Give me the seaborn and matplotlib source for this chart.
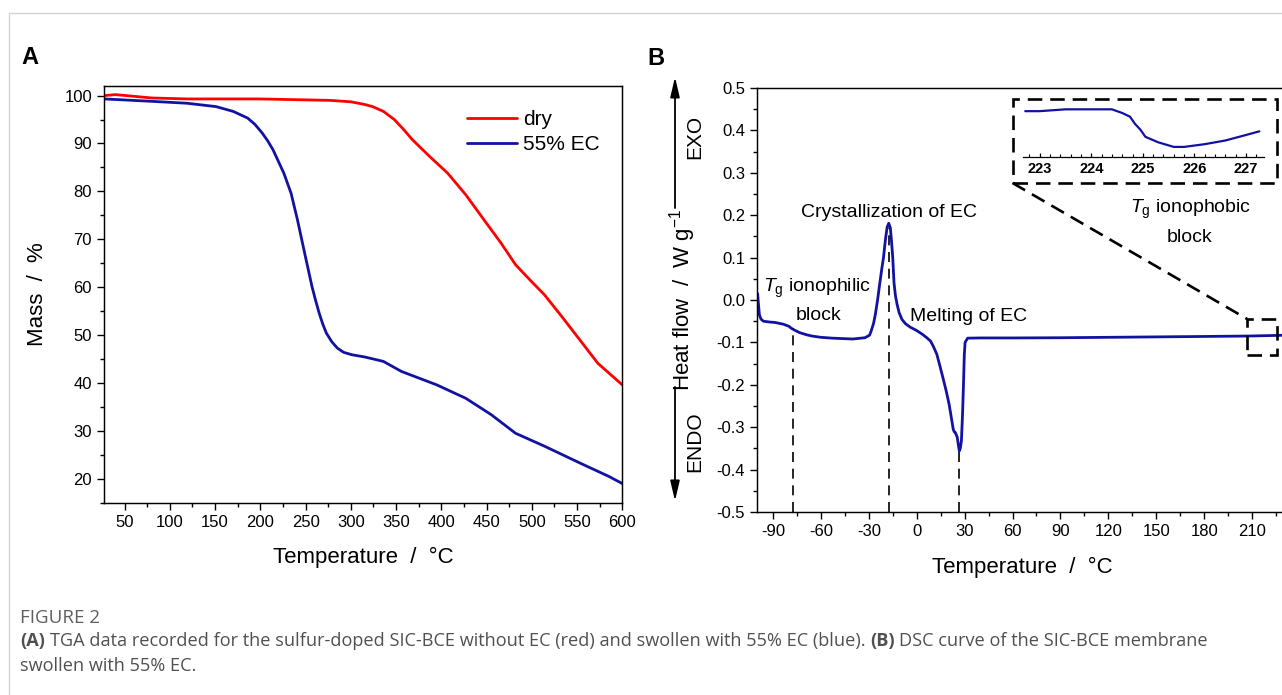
import matplotlib
matplotlib.use("Agg")
import matplotlib.pyplot as plt
import seaborn as sns
import pandas as pd
from matplotlib.ticker import MultipleLocator, FuncFormatter
from matplotlib.patches import Rectangle, FancyArrowPatch
from matplotlib.lines import Line2D

# ---------------- data ----------------
series_labels = ["dry", "55% EC"]

tga_temp_dry = [27.6, 40, 80, 119, 198, 277, 300, 314, 324, 336, 348, 358, 368, 387,
                407, 427, 447, 466, 482, 498, 514, 533, 553, 573, 600]
tga_mass_dry = [100.0, 100.2, 99.5, 99.3, 99.3, 99.0, 98.7, 98.2, 97.7, 96.7, 95.0,
                93.0, 90.8, 87.3, 83.8, 79.3, 74.1, 69.2, 64.7, 61.5, 58.4, 53.9,
                49.0, 44.1, 39.6]

tga_temp_ec = [27.6, 80, 119, 151, 170, 186, 194, 202, 208, 214, 226, 234, 241, 249,
               257, 261, 265, 269, 273, 279, 285, 292, 301, 316, 336, 356, 395, 427,
               455, 482, 514, 553, 585, 600]
tga_mass_ec = [99.3, 98.8, 98.4, 97.7, 96.7, 95.3, 94.0, 92.2, 90.6, 88.7, 83.8, 79.6,
               74.1, 67.1, 60.2, 57.3, 54.6, 52.3, 50.4, 48.6, 47.3, 46.4, 45.9, 45.4,
               44.5, 42.4, 39.6, 36.8, 33.4, 29.5, 26.8, 23.3, 20.5, 19.0]

dsc_temp = [-99.6, -99.2, -98.5, -97.5, -96, -92, -88.7, -83.6, -80, -78.4, -76, -73.3,
            -69, -65.6, -60, -52.8, -40, -32.4, -29.5, -28.5, -27, -25.9, -24.5, -23.2,
            -22, -20.8, -19.5, -18.5, -17.5, -16.5, -15.8, -15.0, -14.2, -13.3, -12.3,
            -11, -9.2, -7, -4.1, 0, 3.6, 6, 8.7, 10.5, 12.6, 14.5, 16.4, 18.5, 20.3,
            21.8, 22.9, 23.5, 24.1, 24.8, 25.4, 26.0, 26.7, 27.3, 28.0, 28.7, 29.3,
            29.8, 30.3, 31.9, 40, 60, 90, 120, 150, 180, 207, 220, 229]
dsc_heat = [0.015, -0.005, -0.035, -0.045, -0.050, -0.052, -0.053, -0.057, -0.062,
            -0.067, -0.072, -0.077, -0.082, -0.085, -0.088, -0.090, -0.092, -0.089,
            -0.083, -0.073, -0.055, -0.034, 0.000, 0.037, 0.070, 0.100, 0.145, 0.172,
            0.181, 0.170, 0.140, 0.100, 0.040, 0.010, -0.010, -0.030, -0.046, -0.056,
            -0.064, -0.072, -0.081, -0.088, -0.097, -0.110, -0.128, -0.155, -0.183,
            -0.215, -0.246, -0.280, -0.305, -0.311, -0.312, -0.318, -0.324, -0.340,
            -0.356, -0.350, -0.332, -0.270, -0.199, -0.130, -0.100, -0.090, -0.0895,
            -0.0895, -0.0890, -0.0880, -0.0870, -0.0860, -0.0850, -0.0840, -0.0832]

inset_temp = [222.72, 223.0, 223.5, 224.0, 224.4, 224.6, 224.75, 224.85, 224.95,
              225.05, 225.3, 225.6, 225.8, 226.2, 226.6, 227.0, 227.26]
inset_heat = [-0.0835, -0.0835, -0.0834, -0.0834, -0.0834, -0.0836, -0.0838, -0.0842,
              -0.0845, -0.0849, -0.0852, -0.08545, -0.08545, -0.0853, -0.0851,
              -0.0848, -0.0846]

marker_temp = [-77.5, -17.5, 26.7]
marker_heat = [-0.066, 0.17, -0.356]

# ---------------- style ----------------
sns.set_theme(style="ticks")
plt.rcParams["font.family"] = ["Liberation Sans", "DejaVu Sans"]
plt.rcParams["axes.unicode_minus"] = False
plt.rcParams["mathtext.fontset"] = "custom"
plt.rcParams["mathtext.rm"] = "Liberation Sans"
plt.rcParams["mathtext.it"] = "Liberation Sans:italic"
plt.rcParams["mathtext.bf"] = "Liberation Sans:bold"
plt.rcParams["axes.linewidth"] = 1.05
for key in ["text.color", "axes.labelcolor", "xtick.color", "ytick.color",
            "axes.edgecolor"]:
    plt.rcParams[key] = "black"

W, H = 1282, 695
fig = plt.figure(figsize=(W / 100, H / 100), dpi=100)
fig.patch.set_facecolor("white")


def fx(px):
    return px / W


def fy(py):
    return 1 - py / H


RED = "#ff0000"
BLUE = "#1212a2"

# frame lines of the page
fig.add_artist(Line2D([fx(8.5), fx(8.5)], [fy(12.5), 0], color="#d4d4d4", lw=1.0))
fig.add_artist(Line2D([fx(8.5), 1], [fy(12.5), fy(12.5)], color="#d4d4d4", lw=1.0))

# ---------------- panel A ----------------
axA = fig.add_axes([fx(104.3), fy(502.7), (622.3 - 104.3) / W, (502.7 - 86) / H])
df_dry = pd.DataFrame({"T": tga_temp_dry, "m": tga_mass_dry})
df_ec = pd.DataFrame({"T": tga_temp_ec, "m": tga_mass_ec})
sns.lineplot(data=df_dry, x="T", y="m", ax=axA, color=RED, lw=2.0,
             label=series_labels[0], sort=False, estimator=None)
sns.lineplot(data=df_ec, x="T", y="m", ax=axA, color=BLUE, lw=2.0,
             label=series_labels[1], sort=False, estimator=None)
axA.set_xlim(27.6, 600)
axA.set_ylim(15, 102)
axA.xaxis.set_major_locator(MultipleLocator(50))
axA.xaxis.set_minor_locator(MultipleLocator(25))
axA.yaxis.set_major_locator(MultipleLocator(10))
axA.yaxis.set_minor_locator(MultipleLocator(5))
axA.tick_params(which="major", direction="out", length=4.8, width=1.0,
                labelsize=12, pad=4, colors="black")
axA.tick_params(which="minor", direction="out", length=2.9, width=1.0)
for s in axA.spines.values():
    s.set_color("black")
axA.set_xlabel("Temperature  /  °C", fontsize=16, color="black")
axA.set_ylabel("Mass  /  %", fontsize=16, color="black")
axA.xaxis.label.set_va("baseline")
axA.xaxis.set_label_coords(0.5, (502.7 - 563) / 416.7)
axA.yaxis.label.set_va("baseline")
axA.yaxis.set_label_coords((43 - 104.3) / 518, 0.5)
legA = axA.legend(loc="upper left", bbox_to_anchor=(0.701, 0.942), frameon=False,
                  fontsize=15, handlelength=2.4, handletextpad=0.25, labelspacing=0.3,
                  borderpad=0, borderaxespad=0)
for t in legA.get_texts():
    t.set_color("black")

# ---------------- panel B ----------------
axB = fig.add_axes([fx(757), fy(512), (1288 - 757) / W, (512 - 88) / H])
df_dsc = pd.DataFrame({"T": dsc_temp, "q": dsc_heat})
sns.lineplot(data=df_dsc, x="T", y="q", ax=axB, color=BLUE, lw=2.0,
             sort=False, estimator=None)
axB.set_xlim(-100, 232.5)
axB.set_ylim(-0.5, 0.5)
axB.xaxis.set_major_locator(MultipleLocator(30))
axB.xaxis.set_minor_locator(MultipleLocator(15))
axB.yaxis.set_major_locator(MultipleLocator(0.1))
axB.yaxis.set_minor_locator(MultipleLocator(0.05))
axB.yaxis.set_major_formatter(FuncFormatter(lambda v, p: f"{round(v, 1) + 0.0:.1f}"))
axB.tick_params(which="major", direction="out", length=5.0, width=1.0,
                labelsize=12, pad=3.5, colors="black")
axB.tick_params(which="minor", direction="out", length=2.9, width=1.0)
for s in axB.spines.values():
    s.set_color("black")
axB.set_xlabel("Temperature  /  °C", fontsize=16, color="black")
axB.set_ylabel("Heat flow  /  W g$^{-1}$", fontsize=16, color="black")
axB.xaxis.label.set_va("baseline")
axB.xaxis.set_label_coords(0.5, (512 - 573) / 424)
axB.yaxis.label.set_va("baseline")
axB.yaxis.set_label_coords((690 - 757) / 531, 0.5)

# dashed guide lines
for t, q in zip(marker_temp, marker_heat):
    axB.plot([t, t], [-0.5, q], color="black", lw=1.2, ls=(0, (6, 4)), zorder=3)

# annotations
txt_kw = dict(fontsize=14, color="black", va="baseline")
axB.text(-17.5, 0.196, "Crystallization of EC", ha="center", **txt_kw)
axB.text(-62.5, 0.019, r"$T_\mathrm{g}$ ionophilic", ha="center", **txt_kw)
axB.text(-61.6, -0.047, "block", ha="center", **txt_kw)
axB.text(-4.4, -0.049, "Melting of EC", ha="left", **txt_kw)
axB.text(171.3, 0.205, r"$T_\mathrm{g}$ ionophobic", ha="center", **txt_kw)
axB.text(170.6, 0.137, "block", ha="center", **txt_kw)

# zoom boxes
box_style = dict(fill=False, edgecolor="black", lw=1.9, ls=(0, (5.5, 3)), clip_on=False, zorder=4)
axB.add_patch(Rectangle((60, 0.276), 225.6 - 60, 0.474 - 0.276, **box_style))
axB.add_patch(Rectangle((207, -0.13), 225.6 - 207, 0.085, **box_style))
axB.plot([60, 207], [0.276, -0.045], color="black", lw=1.9, ls=(0, (5.5, 3)),
         clip_on=False, zorder=4)

# inset
axI = fig.add_axes([fx(1022.7), fy(157), (1264 - 1022.7) / W, (157 - 102) / H])
axI.set_facecolor("none")
df_in = pd.DataFrame({"T": inset_temp, "q": inset_heat})
sns.lineplot(data=df_in, x="T", y="q", ax=axI, color=BLUE, lw=1.6,
             sort=False, estimator=None)
axI.set_xlim(222.67, 227.35)
axI.set_ylim(-0.0860, -0.0830)
for k in ["top", "left", "right"]:
    axI.spines[k].set_visible(False)
axI.spines["bottom"].set_color("black")
axI.spines["bottom"].set_linewidth(0.9)
axI.set_yticks([])
axI.xaxis.set_major_locator(MultipleLocator(1))
axI.xaxis.set_minor_locator(MultipleLocator(0.2))
axI.tick_params(axis="x", which="major", direction="in", length=3.2, width=0.9,
                labelsize=10.5, pad=3.5, colors="black")
axI.tick_params(axis="x", which="minor", direction="in", length=2.0, width=0.8)
for lab in axI.get_xticklabels():
    lab.set_fontweight("bold")
axI.set_xlabel("")
axI.set_ylabel("")

# EXO / ENDO arrows
arrow_kw = dict(arrowstyle="-|>,head_length=1.2,head_width=0.28", lw=1.3,
                color="black", mutation_scale=10, shrinkA=0, shrinkB=0)
fig.add_artist(FancyArrowPatch((fx(675), fy(208)), (fx(675), fy(77)),
                               transform=fig.transFigure, **arrow_kw))
fig.add_artist(FancyArrowPatch((fx(675), fy(387)), (fx(675), fy(501)),
                               transform=fig.transFigure, **arrow_kw))
fig.text(fx(695), fy(137), "EXO", rotation=90, ha="center", va="center", fontsize=15,
         color="black")
fig.text(fx(695), fy(442), "ENDO", rotation=90, ha="center", va="center", fontsize=15,
         color="black")

# panel letters
fig.text(fx(21), fy(64.5), "A", fontsize=17, fontweight="bold", ha="left",
         va="baseline", color="black")
fig.text(fx(647), fy(65), "B", fontsize=17, fontweight="bold", ha="left",
         va="baseline", color="black")

# ---------------- caption ----------------
renderer = fig.canvas.get_renderer()
CAP = ["Open Sans", "DejaVu Sans"]
cap_size = 13.1
cap_color = "#505050"
fig.text(fx(20), fy(623), "FIGURE 2", fontsize=13.5, color="#5e5e5e",
         family=CAP, va="baseline", ha="left")


def draw_runs(x_px, y_px, runs):
    x = x_px
    space = 0.26 * cap_size * 100 / 72
    for txt, weight in runs:
        t = fig.text(fx(x), fy(y_px), txt, fontsize=cap_size, color=cap_color,
                     fontweight=weight, family=CAP, va="baseline", ha="left")
        bb = t.get_window_extent(renderer=renderer)
        x += bb.width + space


draw_runs(20, 646, [("(A)", "bold"),
                    ("TGA data recorded for the sulfur-doped SIC-BCE without EC (red) and swollen with 55% EC (blue).", "normal"),
                    ("(B)", "bold"),
                    ("DSC curve of the SIC-BCE membrane", "normal")])
draw_runs(20, 671, [("swollen with 55% EC.", "normal")])

fig.savefig("out.png", dpi=100, facecolor="white")
